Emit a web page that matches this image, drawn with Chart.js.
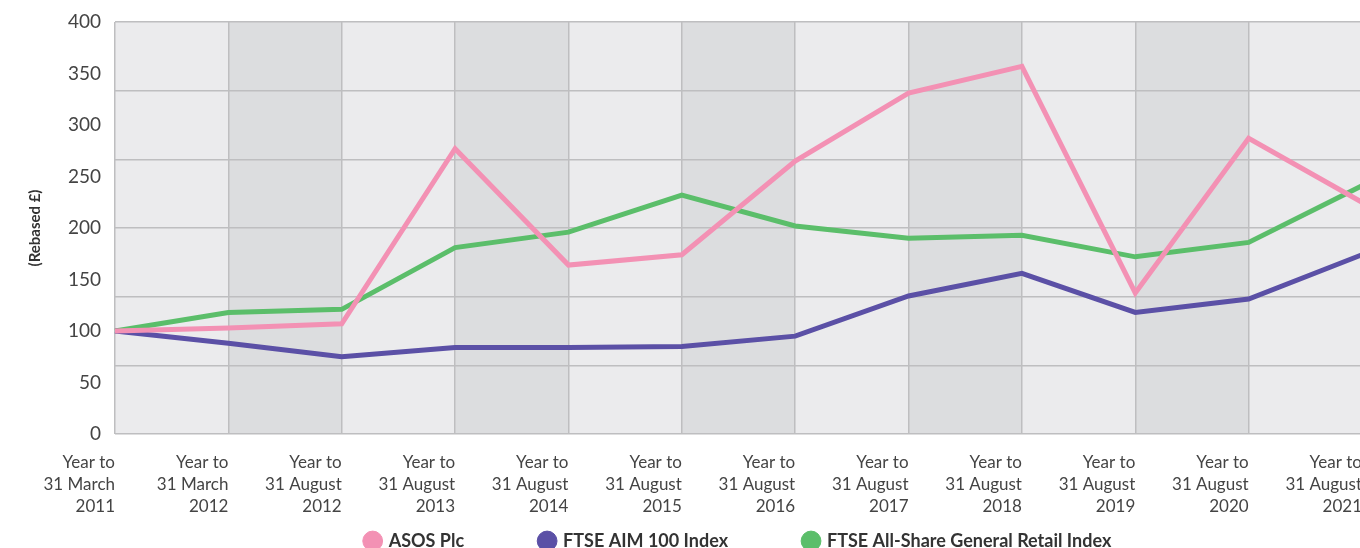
<!DOCTYPE html>
<html lang="en">
<head>
    <meta charset="UTF-8">
    <title>ASOS Plc total shareholder return</title>
    <script src="https://cdn.jsdelivr.net/npm/chart.js"></script>
    <style>
        html, body { margin: 0; padding: 0; background: #fff; overflow: hidden; }
        #wrap { width: 1360px; height: 548px; overflow: hidden; position: relative; }
        canvas { display: block; }
    </style>
</head>
<body>
<div id="wrap">
    <canvas id="tsrChart" width="1380" height="628"></canvas>
</div>

<script>
    // categories
    const periods = [
        ['Year to', '31 March', '2011'],
        ['Year to', '31 March', '2012'],
        ['Year to', '31 August', '2012'],
        ['Year to', '31 August', '2013'],
        ['Year to', '31 August', '2014'],
        ['Year to', '31 August', '2015'],
        ['Year to', '31 August', '2016'],
        ['Year to', '31 August', '2017'],
        ['Year to', '31 August', '2018'],
        ['Year to', '31 August', '2019'],
        ['Year to', '31 August', '2020'],
        ['Year to', '31 August', '2021']
    ];

    // series values (rebased to 100)
    const asos = [100, 103, 107, 277, 164, 174, 265, 331, 357, 137, 287, 225];
    const aim100 = [100, 88, 75, 84, 84, 85, 95, 134, 156, 118, 131, 174];
    const generalRetail = [100, 118, 121, 181, 196, 232, 202, 190, 193, 172, 186, 241];

    // axis
    const yTicks = [0, 50, 100, 150, 200, 250, 300, 350, 400];
    const gridSteps = 6;

    const bandPlugin = {
        id: 'bands',
        beforeDraw(chart) {
            const { ctx, chartArea: a, scales: { x } } = chart;
            ctx.save();
            ctx.fillStyle = '#ebebed';
            ctx.fillRect(a.left, a.top, a.right - a.left, a.bottom - a.top);
            ctx.fillStyle = '#dcdddf';
            for (let i = 1; i < periods.length - 1; i += 2) {
                const x0 = x.getPixelForValue(i);
                const x1 = x.getPixelForValue(i + 1);
                ctx.fillRect(x0, a.top, x1 - x0, a.bottom - a.top);
            }
            ctx.restore();
        }
    };

    // legend padding is wide for the gaps between items, pull the row back up
    const legendLift = {
        id: 'legendLift',
        afterLayout(chart) {
            const lg = chart.legend;
            if (!lg) return;
            lg.top -= 68;
            lg.bottom -= 68;
        }
    };

    const ctx = document.getElementById('tsrChart').getContext('2d');

    new Chart(ctx, {
        type: 'line',
        data: {
            labels: periods,
            datasets: [{
                label: 'ASOS Plc',
                data: asos,
                borderColor: '#f391b4',
                backgroundColor: '#f391b4'
            }, {
                label: 'FTSE AIM 100 Index',
                data: aim100,
                borderColor: '#5b50a6',
                backgroundColor: '#5b50a6'
            }, {
                label: 'FTSE All-Share General Retail Index',
                data: generalRetail,
                borderColor: '#5bbe6a',
                backgroundColor: '#5bbe6a'
            }]
        },
        options: {
            responsive: false,
            animation: false,
            elements: {
                line: { borderWidth: 5, tension: 0 },
                point: { radius: 0, hoverRadius: 0 }
            },
            layout: { padding: { top: 22, right: 18, left: 0, bottom: 0 } },
            plugins: {
                tooltip: { enabled: false },
                legend: {
                    position: 'bottom',
                    fullSize: false,
                    labels: {
                        usePointStyle: true,
                        pointStyle: 'circle',
                        boxWidth: 14,
                        boxHeight: 14,
                        padding: 76,
                        color: '#333',
                        font: { family: 'Lato', size: 18, weight: 'bold' }
                    }
                }
            },
            scales: {
                x: {
                    offset: false,
                    grid: { color: '#bebec0', lineWidth: 1.5, drawTicks: false },
                    border: { display: false },
                    afterFit: s => { s.height = 90; },
                    ticks: {
                        align: 'end',
                        maxRotation: 0,
                        autoSkip: false,
                        padding: 18,
                        color: '#444',
                        font: { family: 'Lato', size: 17, lineHeight: 1.294 }
                    }
                },
                y: {
                    min: 0,
                    max: 400,
                    grid: { display: false, drawTicks: false },
                    border: { display: false },
                    afterBuildTicks: axis => { axis.ticks = yTicks.map(v => ({ value: v })); },
                    afterFit: s => {
                        s.width = 115;
                        s.paddingTop = 0;
                        s.paddingBottom = 0;
                    },
                    ticks: {
                        padding: 14,
                        color: '#444',
                        font: { family: 'Lato', size: 19 }
                    },
                    title: {
                        display: true,
                        text: '(Rebased £)',
                        color: '#333',
                        padding: { top: 26, bottom: 0 },
                        font: { family: 'Lato', size: 15, weight: 'bold' }
                    }
                },
                y2: {
                    position: 'left',
                    min: 0,
                    max: 400,
                    afterBuildTicks: axis => {
                        const t = [];
                        for (let i = 0; i <= gridSteps; i++) t.push({ value: 400 * i / gridSteps });
                        axis.ticks = t;
                    },
                    ticks: { display: false },
                    border: { display: false },
                    grid: { color: '#bebec0', lineWidth: 1.5, drawTicks: false }
                }
            }
        },
        plugins: [bandPlugin, legendLift]
    });
</script>
</body>
</html>
